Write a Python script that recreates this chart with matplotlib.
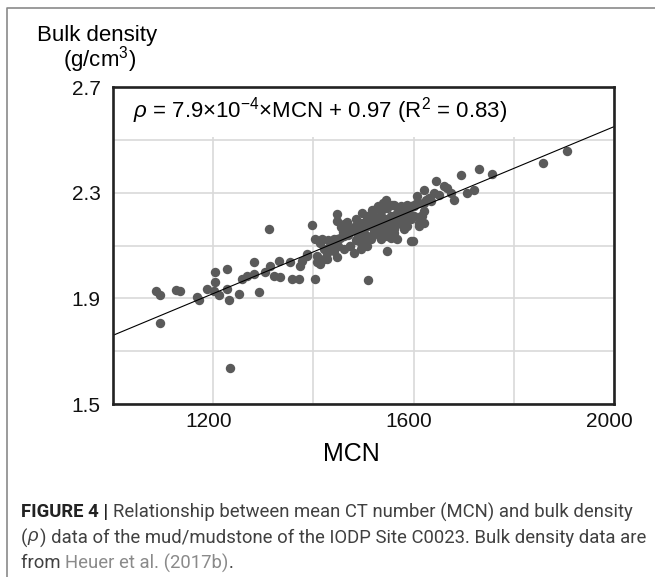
import numpy as np
import matplotlib
matplotlib.use("Agg")
import matplotlib.pyplot as plt
from matplotlib.lines import Line2D
from matplotlib.transforms import ScaledTranslation

plt.rcParams["font.family"] = ["Liberation Sans", "DejaVu Sans"]
plt.rcParams["mathtext.fontset"] = "custom"
plt.rcParams["mathtext.rm"] = "Liberation Sans"
plt.rcParams["mathtext.it"] = "Liberation Sans:italic"

# MCN / bulk density pairs
mcn = [1085, 1093, 1094, 1126, 1233, 1404, 1509, 1859, 1906,
       1397, 1447, 1447, 1461, 1441, 1454, 1474, 1484, 1497, 1507, 1517, 1527, 1544, 1557,
       1574, 1587, 1534, 1547, 1567, 1581, 1507, 1521, 1541, 1561, 1574, 1587, 1487, 1501,
       1514, 1534, 1554, 1567, 1547, 1474, 1481, 1461, 1441, 1421, 1404, 1414, 1407, 1427,
       1447, 1387, 1377, 1414, 1594, 1494, 1507,
       1574, 1581, 1587, 1601, 1607, 1621, 1624, 1634, 1644, 1651, 1661, 1667, 1674, 1681,
       1694, 1707, 1721, 1731, 1757, 1594, 1614, 1621, 1611, 1581, 1599,
       1134, 1167, 1171, 1187, 1201, 1204, 1204, 1211, 1227, 1227, 1231, 1251, 1257, 1267,
       1281, 1281, 1291, 1304, 1314, 1321, 1331, 1334, 1354, 1357, 1371, 1374, 1387, 1311,
       1474, 1487, 1501, 1514, 1527, 1541, 1554, 1567, 1581, 1594, 1494, 1507, 1521, 1534,
       1547, 1561, 1574, 1587, 1514, 1527, 1541, 1554, 1567, 1581, 1534, 1547, 1561, 1474,
       1461, 1447, 1434, 1427, 1421, 1407, 1417, 1607, 1611, 1617, 1621,
       1480, 1490, 1500, 1510, 1520, 1530, 1540, 1550, 1560, 1570, 1580, 1590, 1600, 1610,
       1520, 1530, 1545, 1555, 1575, 1590, 1600, 1460, 1470, 1485, 1495, 1505, 1455, 1468,
       1528, 1538, 1440, 1430, 1450, 1620, 1630, 1640]
rho = [1.926, 1.911, 1.807, 1.931, 1.635, 1.974, 1.971, 2.413, 2.459,
       2.176, 2.221, 2.192, 2.180, 2.123, 2.130, 2.161, 2.199, 2.224, 2.211, 2.236, 2.242, 2.274, 2.255,
       2.249, 2.255, 2.211, 2.199, 2.211, 2.224, 2.174, 2.161, 2.161, 2.161, 2.180, 2.174, 2.149, 2.136,
       2.123, 2.130, 2.130, 2.123, 2.080, 2.098, 2.073, 2.086, 2.080, 2.086, 2.123, 2.111, 2.061, 2.048,
       2.055, 2.061, 2.042, 2.030, 2.117, 2.086, 2.098,
       2.236, 2.211, 2.249, 2.255, 2.286, 2.311, 2.274, 2.267, 2.343, 2.292, 2.324, 2.318, 2.299, 2.274,
       2.368, 2.299, 2.311, 2.389, 2.371, 2.199, 2.211, 2.186, 2.174, 2.161, 2.117,
       1.929, 1.904, 1.892, 1.936, 1.929, 1.998, 1.963, 1.911, 2.011, 1.936, 1.892, 1.917, 1.973, 1.986,
       2.036, 1.992, 1.923, 1.998, 2.023, 1.986, 2.042, 1.979, 2.036, 1.973, 1.973, 2.023, 2.067, 2.161,
       2.098, 2.123, 2.148, 2.173, 2.186, 2.199, 2.211, 2.224, 2.236, 2.249, 2.186, 2.199, 2.211, 2.230,
       2.242, 2.255, 2.242, 2.224, 2.136, 2.148, 2.161, 2.173, 2.186, 2.199, 2.123, 2.136, 2.148, 2.161,
       2.136, 2.123, 2.098, 2.073, 2.048, 2.036, 2.123, 2.261, 2.186, 2.211, 2.230,
       2.170, 2.160, 2.180, 2.190, 2.200, 2.170, 2.180, 2.190, 2.200, 2.210, 2.230, 2.240, 2.250, 2.260,
       2.150, 2.140, 2.150, 2.170, 2.190, 2.200, 2.210, 2.150, 2.140, 2.120, 2.110, 2.120, 2.170, 2.190,
       2.250, 2.260, 2.110, 2.120, 2.100, 2.260, 2.280, 2.300]

# regression reported in the figure
slope = 7.9e-4
intercept = 0.97

x_ticks = [1200, 1400, 1600, 1800, 2000]
x_labels = ["1200", "", "1600", "", "2000"]
y_ticks = [1.5, 1.7, 1.9, 2.1, 2.3, 2.5, 2.7]
y_labels = ["1.5", "", "1.9", "", "2.3", "", "2.7"]

fig = plt.figure(figsize=(6.55, 5.77), dpi=100)
ax = fig.add_axes([0.1725, 0.2998, 0.765, 0.5494])

ax.scatter(mcn, rho, s=46, color="#5a5a5a", linewidths=0, zorder=2)
xl = np.array([1000, 2000])
ax.plot(xl, slope * xl + intercept, color="black", lw=0.8, zorder=2.1)

ax.set_xlim(1000, 2000)
ax.set_ylim(1.5, 2.7)
ax.set_xticks(x_ticks, x_labels)
ax.set_yticks(y_ticks, y_labels)
ax.tick_params(length=0, labelsize=15, colors="#111111")
ax.tick_params(axis="y", pad=9)
ax.tick_params(axis="x", pad=6)
off = ScaledTranslation(-5 / 100, 0, fig.dpi_scale_trans)
for lab in ax.get_xticklabels():
    lab.set_transform(lab.get_transform() + off)
ax.grid(True, color="#d9d9d9", lw=1.2)
ax.set_axisbelow(True)
for sp in ax.spines.values():
    sp.set_linewidth(1.9)
    sp.set_color("#222222")

ax.text(0.04, 0.927, r"$\rho$ = 7.9×10$^{-4}$×MCN + 0.97 (R$^{2}$ = 0.83)",
        transform=ax.transAxes, fontsize=16, ha="left", va="center", zorder=2.3,
        bbox=dict(facecolor="white", edgecolor="none", pad=8))

ax.set_xlabel("MCN", fontsize=18)
ax.xaxis.set_label_coords(0.475, -0.12)

fig.text(97 / 655, 1 - 35 / 577, "Bulk density", fontsize=16, ha="center", va="center")
fig.text(100 / 655, 1 - 60 / 577, "(g/cm$^3$)", fontsize=16, ha="center", va="center")

# outer frame (left and top only)
fig.add_artist(Line2D([7 / 655, 7 / 655, 1], [0, 1 - 8 / 577, 1 - 8 / 577],
                      transform=fig.transFigure, color="#8a8a8a", lw=1.2))

# caption
cap_font = ["Roboto", "DejaVu Sans"]
renderer = fig.canvas.get_renderer()


def caption_line(y, pieces):
    x = 21 / 655
    for txt, kw in pieces:
        t = fig.text(x, y, txt, fontsize=13.3, family=cap_font, va="center", ha="left", **kw)
        bb = t.get_window_extent(renderer)
        x += bb.width / fig.bbox.width


grey = dict(color="#404040")
caption_line(1 - 512 / 577, [("FIGURE 4 | ", dict(color="#222222", fontweight="bold")),
                             ("Relationship between mean CT number (MCN) and bulk density", grey)])
caption_line(1 - 538 / 577, [("(", grey), (r"$\rho$", dict(color="#404040")),
                             (") data of the mud/mudstone of the IODP Site C0023. Bulk density data are", grey)])
caption_line(1 - 563 / 577, [("from ", grey), ("Heuer et al. (2017b)", dict(color="#8a8a8a")),
                             (".", grey)])

fig.savefig("out.png", dpi=100)
